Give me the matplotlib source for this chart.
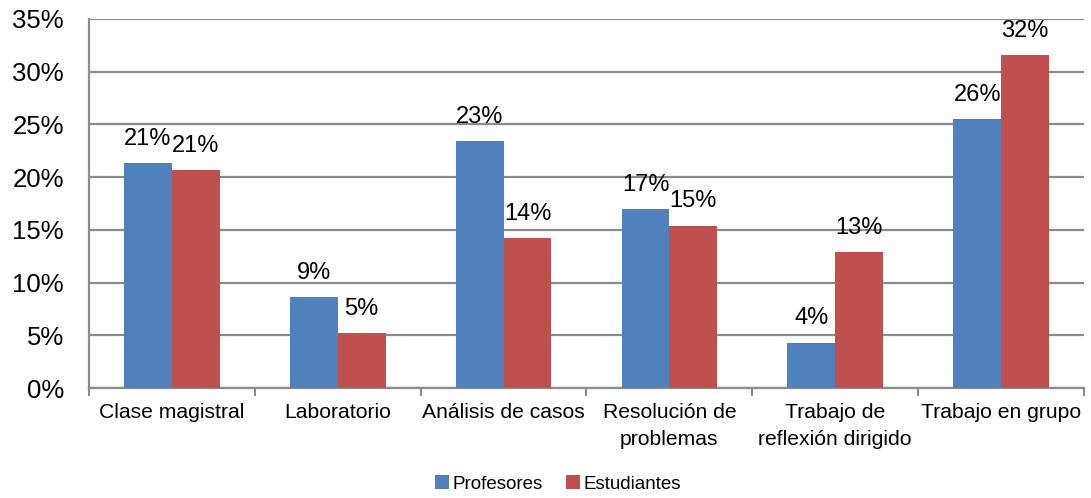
import matplotlib
matplotlib.use("Agg")
import matplotlib.pyplot as plt
import numpy as np
from matplotlib.ticker import FuncFormatter

plt.rcParams['font.family'] = ['Liberation Sans', 'DejaVu Sans']

categories = ["Clase magistral", "Laboratorio", "Análisis de casos",
              "Resolución de\nproblemas", "Trabajo de\nreflexión dirigido",
              "Trabajo en grupo"]
profesores = [21.3, 8.6, 23.4, 17.0, 4.3, 25.5]
estudiantes = [20.7, 5.2, 14.2, 15.4, 12.9, 31.6]
series_names = ["Profesores", "Estudiantes"]
colors = ["#4F81BD", "#C0504D"]

fig = plt.figure(figsize=(10.91, 4.98), dpi=100)
ax = fig.add_axes([89/1091, 1 - 388/498, (1084-89)/1091, (388-19)/498])

x = np.arange(len(categories))
w = 0.288
b1 = ax.bar(x - w/2, profesores, w, color=colors[0], label=series_names[0], zorder=3)
b2 = ax.bar(x + w/2, estudiantes, w, color=colors[1], label=series_names[1], zorder=3)

for bars, vals in ((b1, profesores), (b2, estudiantes)):
    for r, v in zip(bars, vals):
        ax.annotate(f"{round(v):.0f}%", (r.get_x() + r.get_width()/2, v),
                    xytext=(0, 9.5), textcoords="offset points",
                    ha="center", va="bottom", fontsize=17, color="black")

ax.set_xlim(-0.5, len(categories) - 0.5)
ax.set_ylim(0, 35)
ax.set_yticks(np.arange(0, 36, 5))
ax.yaxis.set_major_formatter(FuncFormatter(lambda v, p: f"{v:.0f}%"))
ax.tick_params(axis='y', labelsize=18.5, length=0, pad=18, colors='black')
ax.yaxis.grid(True, color="#8C8C8C", linewidth=1.6, zorder=0)
ax.set_axisbelow(True)

ax.set_xticks(x)
ax.set_xticklabels(categories, fontsize=15.2, linespacing=1.5)
ax.tick_params(axis='x', length=0, pad=11)
ax.set_xticks(np.arange(-0.5, len(categories)), minor=True)
ax.tick_params(axis='x', which='minor', length=6, width=1.5, color="#8C8C8C", direction='out')

for s in ("top", "right"):
    ax.spines[s].set_visible(False)
ax.spines["left"].set_color("#8C8C8C")
ax.spines["left"].set_linewidth(1.6)
ax.spines["bottom"].set_color("#8C8C8C")
ax.spines["bottom"].set_linewidth(1.6)

fig.legend(handles=[b1, b2], labels=series_names, loc="center",
           bbox_to_anchor=(558/1091, 1 - 484/498), ncol=2, frameon=False,
           fontsize=13.5, handlelength=0.75, handleheight=0.75,
           handletextpad=0.2, columnspacing=1.2)

fig.savefig("out.png", dpi=100, facecolor="white")
